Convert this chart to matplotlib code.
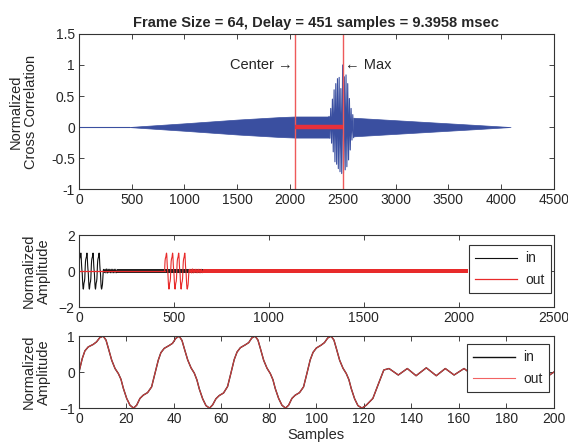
import numpy as np
import matplotlib
matplotlib.use("Agg")
import matplotlib.pyplot as plt

plt.rcParams['font.family'] = ['Liberation Sans', 'DejaVu Sans']
plt.rcParams['font.size'] = 10
plt.rcParams['text.color'] = '#262626'
plt.rcParams['axes.labelcolor'] = '#262626'
plt.rcParams['xtick.color'] = '#262626'
plt.rcParams['ytick.color'] = '#262626'

# ---- values ----
frame_size = 64
delay = 451
delay_ms = 9.3958
center = 2048
signal_len = 2048

# cross correlation: flat start, growing / shrinking envelope, burst round the max
flat_x = [0, 470]
env_left_x = [470, 1000, 1500, 1900, 2048, 2370]
env_left_amp = [0.0, 0.06, 0.12, 0.16, 0.17, 0.17]
env_right_x = [2600, 3000, 3400, 3800, 4090]
env_right_amp = [0.15, 0.11, 0.07, 0.03, 0.0]
burst_x = [2370, 2378, 2386, 2394, 2402, 2410, 2418, 2426, 2434, 2442, 2450, 2458, 2466, 2474,
           2482, 2490, 2499, 2507, 2515, 2523, 2531, 2539, 2547, 2555, 2563, 2571, 2579, 2587,
           2595, 2603]
burst_y = [0.17, -0.18, 0.30, -0.26, 0.45, -0.40, 0.60, -0.56, 0.70, -0.60, 0.78, -0.67, 0.80, -0.72,
           0.62, -0.75, 1.0, -0.74, 0.81, -0.69, 0.84, -0.64, 0.70, -0.53, 0.46, -0.37, 0.30, -0.21,
           0.20, -0.17]

# first 200 samples of the input frame (knots)
wave_t = [0, 1.4, 2.5, 3.9, 6, 7.4, 8.8, 10.2, 11.4, 12.4, 13.8, 15.2, 16.6, 17.7, 18.7, 20.1, 21.5, 23, 24.3,
          25.7, 27.1, 28.9, 30.6,
          32, 33.4, 34.5, 35.9, 38, 39.4, 40.8, 42.2, 43.4, 44.4, 45.8, 47.2, 48.6, 49.7, 50.7, 52.1, 53.5, 55,
          56.3, 57.7, 59.1, 60.9, 62.6,
          64, 65.4, 66.6, 68, 70.1, 71.5, 72.8, 74.2, 75.4, 76.4, 77.8, 79.2, 80.6, 81.7, 82.7, 84.1, 85.5, 87,
          88.3, 89.7, 91.1, 92.9, 94.6,
          96, 97.4, 98.6, 100, 102, 103.4, 104.8, 106.2, 107.4, 108.4, 109.8, 111.2, 112.6, 113.7, 114.7, 116.1,
          117.5, 119.2,
          121, 123.8, 126, 128.4, 130.6, 134.5, 138.3, 142, 146.3, 150.5, 154.3, 158, 162.2, 166, 170, 174, 178,
          182, 186, 190, 194, 198, 200]
wave_v = [0, 0.38, 0.59, 0.70, 0.77, 0.84, 0.96, 1.0, 0.89, 0.66, 0.33, 0.10, -0.04, -0.20, -0.45, -0.73, -0.92,
          -1.0, -0.92, -0.73, -0.64, -0.57, -0.41,
          -0.04, 0.33, 0.54, 0.66, 0.74, 0.80, 0.94, 1.0, 0.88, 0.65, 0.34, 0.12, -0.03, -0.22, -0.47, -0.74, -0.93,
          -1.0, -0.91, -0.74, -0.65, -0.58, -0.40,
          -0.03, 0.35, 0.56, 0.68, 0.76, 0.82, 0.95, 1.0, 0.89, 0.66, 0.33, 0.11, -0.04, -0.21, -0.46, -0.73, -0.92,
          -1.0, -0.92, -0.73, -0.64, -0.57, -0.41,
          -0.04, 0.34, 0.55, 0.67, 0.75, 0.82, 0.95, 1.0, 0.89, 0.66, 0.33, 0.11, -0.04, -0.21, -0.46, -0.74, -0.93,
          -1.0,
          -0.92, -0.73, -0.35, 0.06, 0.10, -0.08, 0.10, -0.10, 0.12, -0.10, 0.10, -0.08, 0.10, -0.09, 0.10, -0.09,
          0.10, -0.09, 0.10, -0.09, 0.10, -0.09, 0.0]
# small residual oscillation that runs to the end of the frame
tail_amp = 0.1

blue = '#3a4fa0'
red = '#e82a2a'
dark = '#333333'


def matlab_axes(ax):
    for s in ax.spines.values():
        s.set_color(dark)
        s.set_linewidth(0.8)
    ax.tick_params(direction='in', top=True, right=True, length=3.5, width=0.6, labelsize=10, pad=3)


def matlab_legend(ax, anchor):
    leg = ax.legend(loc='upper right', bbox_to_anchor=anchor, borderaxespad=0, fancybox=False,
                    framealpha=1, edgecolor=dark, handlelength=3.0, handletextpad=0.6, labelspacing=0.55,
                    borderpad=0.45, fontsize=10)
    leg.get_frame().set_linewidth(0.8)


fig = plt.figure(figsize=(5.68, 4.47), dpi=100)
ax1 = fig.add_axes([0.139, 0.577, 0.836, 0.347])
ax2 = fig.add_axes([0.139, 0.313, 0.836, 0.161])
ax3 = fig.add_axes([0.139, 0.087, 0.836, 0.161])

# ---- top: cross correlation ----
ax1.plot(flat_x, [0, 0], color=blue, lw=0.8)
ax1.fill_between(env_left_x, -np.array(env_left_amp), env_left_amp, color=blue, lw=0.5)
ax1.fill_between(env_right_x, -np.array(env_right_amp), env_right_amp, color=blue, lw=0.5)
ax1.plot(burst_x, burst_y, color=blue, lw=0.8)
ax1.axvline(center, color='#ee5a5a', lw=1.0)
ax1.axvline(center + delay, color='#ee5a5a', lw=1.0)
ax1.plot([center, center + delay], [0, 0], color='#e8303a', lw=3.2, solid_capstyle='butt')
ax1.text(center - 25, 1.0, 'Center \u2192', ha='right', va='center', fontsize=10.5)
ax1.text(center + delay + 25, 1.0, '\u2190 Max', ha='left', va='center', fontsize=10.5)
ax1.set_xlim(0, 4500)
ax1.set_ylim(-1, 1.5)
ax1.set_xticks(np.arange(0, 4501, 500))
ax1.set_yticks([-1, -0.5, 0, 0.5, 1, 1.5])
ax1.set_yticklabels(['-1', '-0.5', '0', '0.5', '1', '1.5'])
ax1.set_ylabel('Normalized\nCross Correlation', fontsize=10.5, linespacing=1.1)
ax1.yaxis.set_label_coords(-0.086, 0.5)
ax1.set_title('Frame Size = %d, Delay = %d samples = %.4f msec' % (frame_size, delay, delay_ms),
              fontsize=10.5, fontweight='bold', pad=5)
matlab_axes(ax1)

# ---- middle: whole frames ----
wave_t = np.array(wave_t)
band_in_x = [wave_t[-1], signal_len]
band_out_x = [wave_t[-1] + delay, signal_len]
ax2.plot(wave_t, wave_v, color='#111111', lw=0.8, label='in')
ax2.fill_between(band_in_x, -tail_amp, tail_amp, color='#222222', lw=0)
ax2.plot([0, delay], [0, 0], color=red, lw=0.9, label='out')
ax2.plot(wave_t + delay, wave_v, color=red, lw=0.8)
ax2.fill_between(band_out_x, -tail_amp, tail_amp, color=red, lw=0)
ax2.set_xlim(0, 2500)
ax2.set_ylim(-2, 2)
ax2.set_xticks(np.arange(0, 2501, 500))
ax2.set_yticks([-2, 0, 2])
ax2.set_ylabel('Normalized\nAmplitude', fontsize=10.5, linespacing=1.1)
ax2.yaxis.set_label_coords(-0.059, 0.5)
matlab_axes(ax2)
matlab_legend(ax2, (0.994, 0.861))

# ---- bottom: first 200 samples, out shifted back by the delay ----
ax3.plot(wave_t, wave_v, color='#111111', lw=1.0, label='in')
ax3.plot(wave_t, wave_v, color='#f04848', lw=0.8, alpha=0.85, label='out')
ax3.set_xlim(0, 200)
ax3.set_ylim(-1, 1)
ax3.set_xticks(np.arange(0, 201, 20))
ax3.set_yticks([-1, 0, 1])
ax3.set_ylabel('Normalized\nAmplitude', fontsize=10.5, linespacing=1.1)
ax3.yaxis.set_label_coords(-0.059, 0.5)
ax3.set_xlabel('Samples', fontsize=10.5, labelpad=1)
matlab_axes(ax3)
matlab_legend(ax3, (0.9895, 0.889))

fig.savefig('out.png', dpi=100)
